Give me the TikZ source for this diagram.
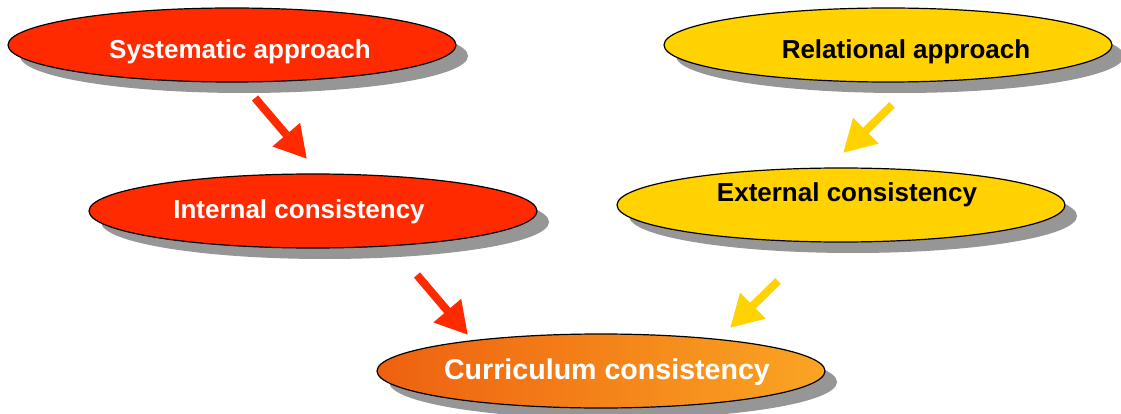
\documentclass[tikz,border=0pt]{standalone}
\usepackage{fontspec}
\setmainfont{Liberation Sans}
\usetikzlibrary{shapes.geometric,shadows,arrows.meta}

\definecolor{sysred}{RGB}{255,42,0}
\definecolor{relyellow}{RGB}{255,210,0}
\definecolor{shadowgray}{RGB}{150,150,150}
\definecolor{currleft}{RGB}{238,96,16}
\definecolor{currright}{RGB}{250,165,35}

\tikzset{
  oval/.style={ellipse, draw=black, line width=1.2pt, minimum width=448pt,
    minimum height=74pt, inner sep=0pt,
    drop shadow={shadow xshift=12pt, shadow yshift=-11pt, fill=shadowgray, opacity=1}},
  ovaltext/.style={font=\bfseries\fontsize{26}{30}\selectfont, inner sep=0pt},
  fatarrow/.style={line width=8pt, -{Triangle[width=34pt,length=32pt]}}
}

\begin{document}
\begin{tikzpicture}[x=1pt, y=-1pt]

	\useasboundingbox (0,0) rectangle (1121,414);

	% Approaches
	\node[oval, fill=sysred] (sys) at (232,45) {};
	\node[ovaltext, text=white] (sys-t) at (240,52) {Systematic approach};

	\node[oval, fill=relyellow] (rel) at (888,45) {};
	\node[ovaltext, text=black] (rel-t) at (906,52) {Relational approach};

	% Consistencies
	\node[oval, fill=sysred] (int) at (313,211) {};
	\node[ovaltext, text=white] (int-t) at (299,212) {Internal consistency};

	\node[oval, fill=relyellow] (ext) at (841,205) {};
	\node[ovaltext, text=black] (ext-t) at (847,195) {External consistency};

	% Result
	\node[oval, left color=currleft, right color=currright] (cur) at (601,371) {};
	\node[ovaltext, text=white, font=\bfseries\fontsize{28.6}{32}\selectfont]
		(cur-t) at (607,372) {Curriculum consistency};

	% Arrow ends
	\coordinate (sys-a) at (255,98);
	\coordinate (int-b) at (307,159);
	\coordinate (rel-a) at (892,105);
	\coordinate (ext-b) at (843,153);
	\coordinate (int-a) at (417,275);
	\coordinate (cur-l) at (468,335);
	\coordinate (ext-a) at (778,281);
	\coordinate (cur-r) at (730,328);

	% Arrows
	\draw[fatarrow, sysred] (sys-a) -- (int-b);
	\draw[fatarrow, relyellow] (rel-a) -- (ext-b);
	\draw[fatarrow, sysred] (int-a) -- (cur-l);
	\draw[fatarrow, relyellow] (ext-a) -- (cur-r);

\end{tikzpicture}
\end{document}
